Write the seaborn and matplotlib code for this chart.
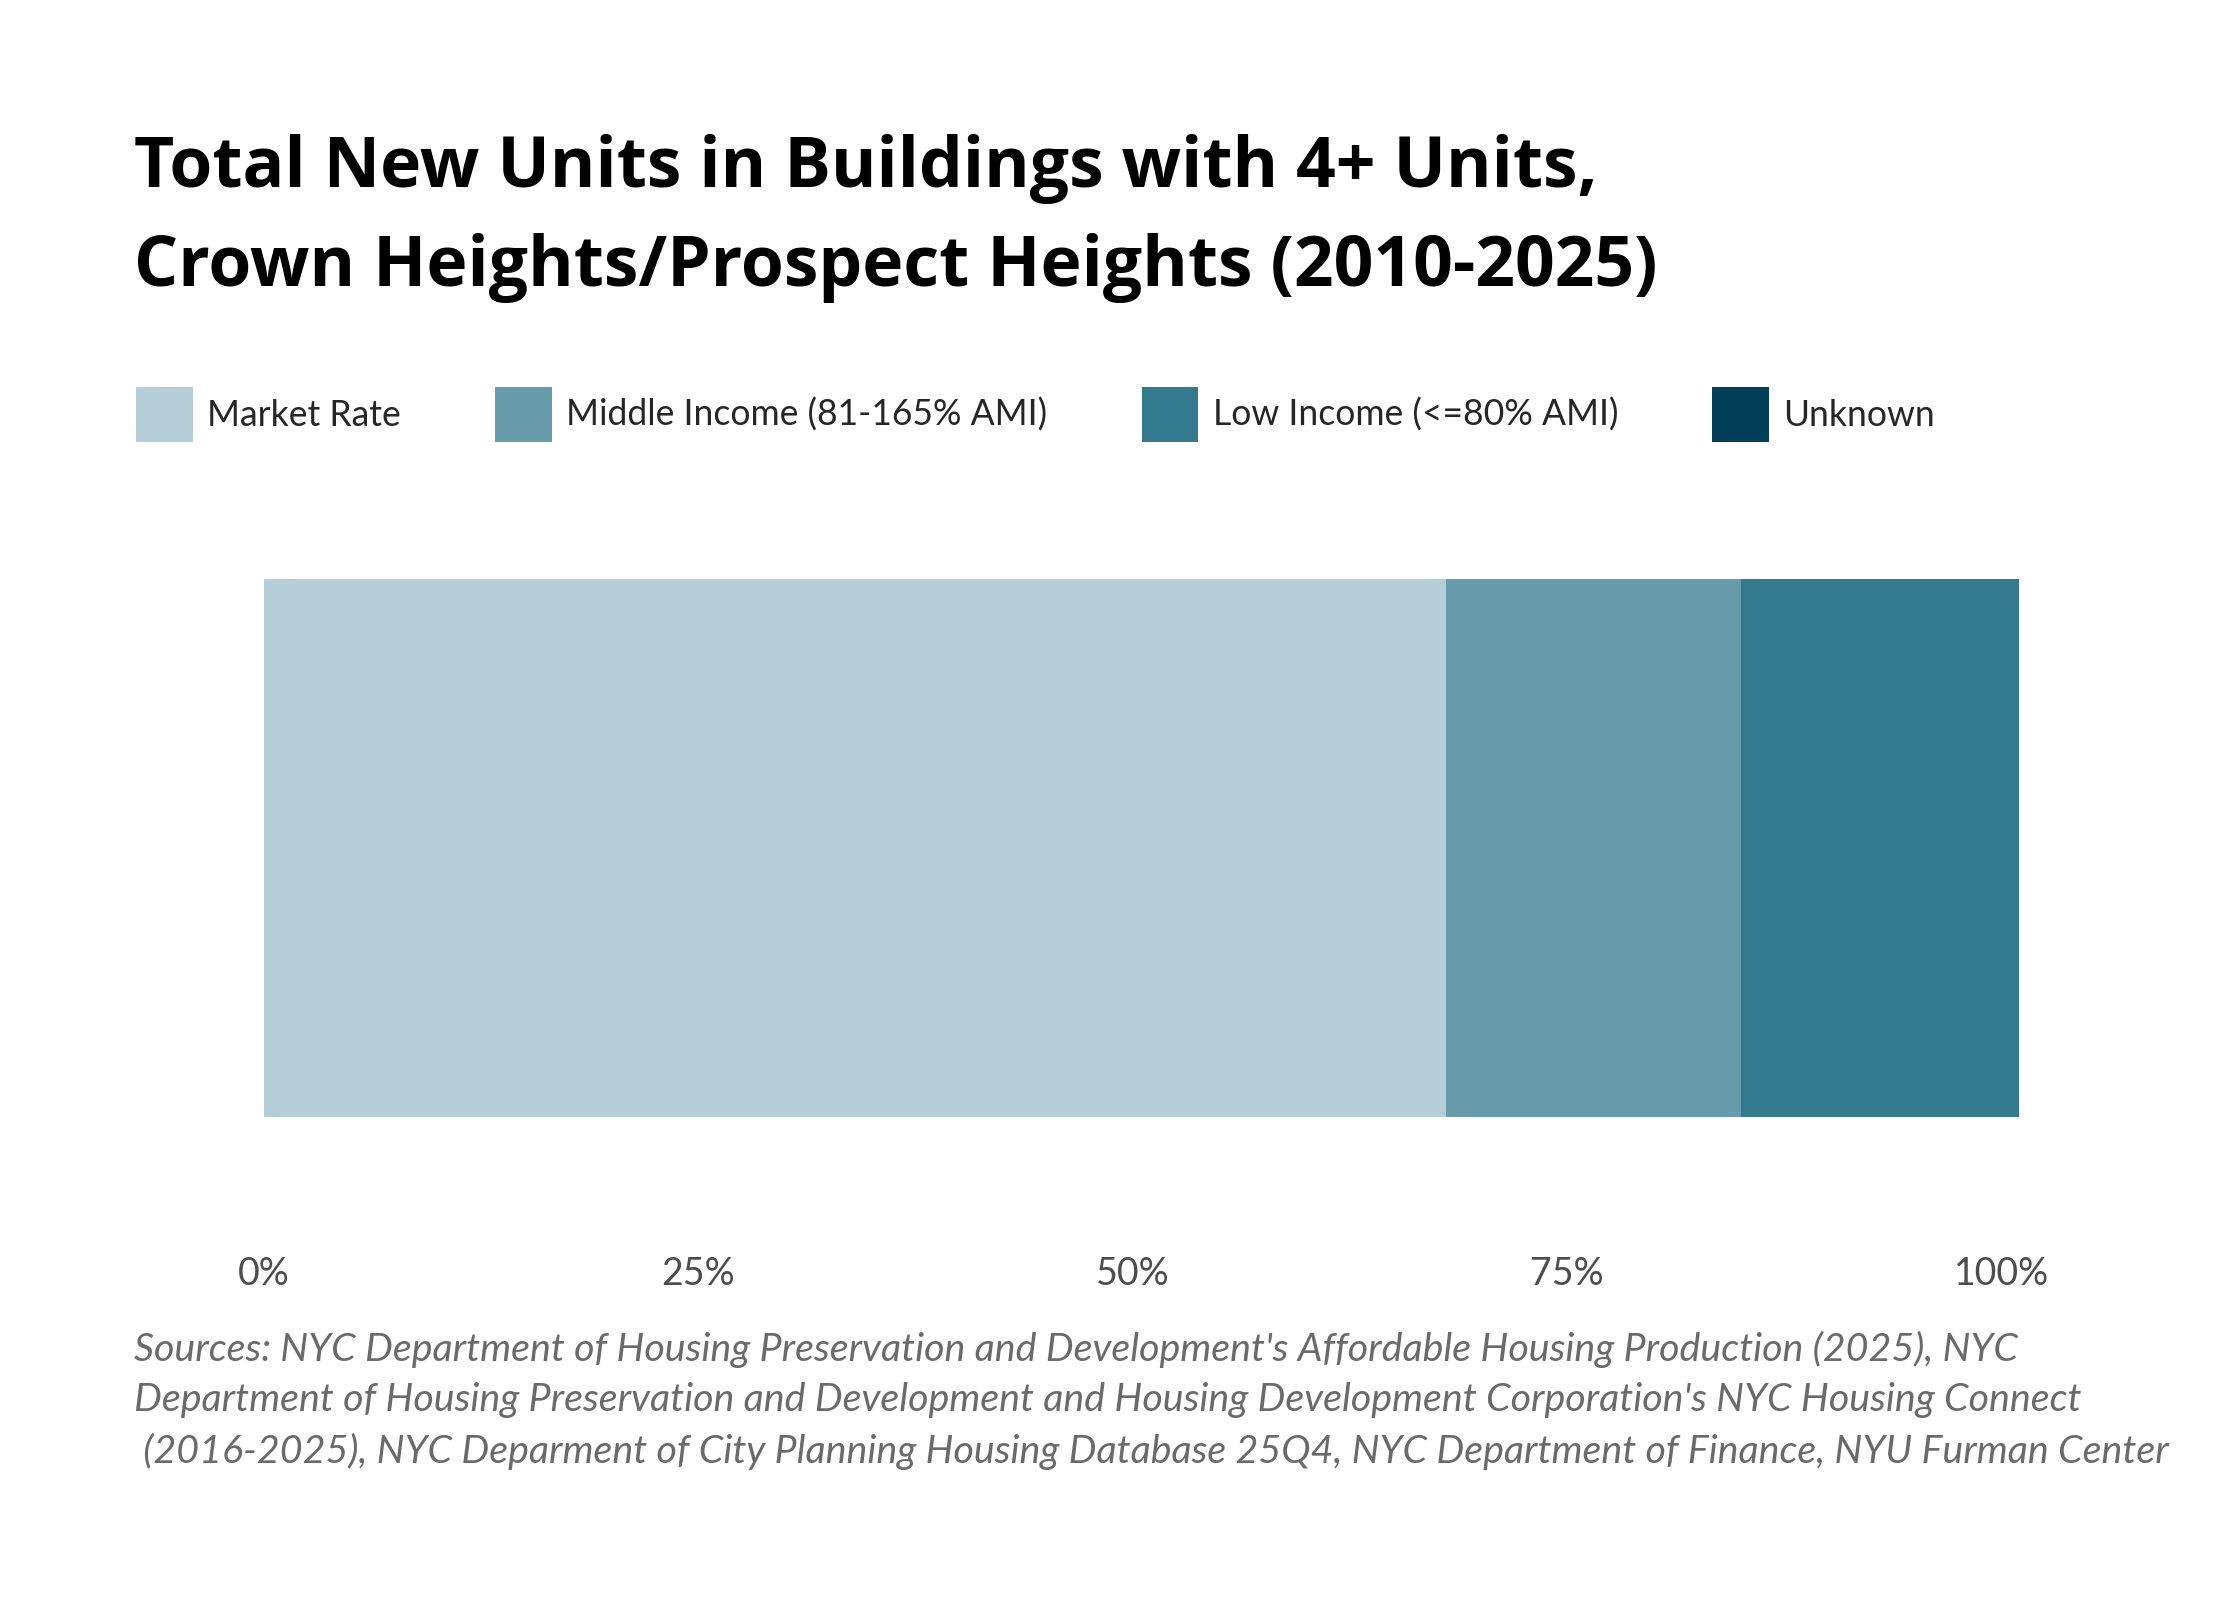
import numpy as np
import pandas as pd
import matplotlib
matplotlib.use("Agg")
import matplotlib.pyplot as plt
from matplotlib.patches import Patch
import seaborn as sns

# données (part des nouveaux logements)
categories = ["Market Rate", "Middle Income (81-165% AMI)", "Low Income (<=80% AMI)", "Unknown"]
shares = [0.68, 0.17, 0.16, 0.0]
colors = ["#b4cdd6", "#679cab", "#337a8f", "#023f5a"]
tick_values = [0, 0.25, 0.5, 0.75, 1.0]
tick_labels = ["0%", "25%", "50%", "75%", "100%"]

title = "Total New Units in Buildings with 4+ Units,\nCrown Heights/Prospect Heights (2010-2025)"
sources = ("Sources: NYC Department of Housing Preservation and Development's Affordable Housing Production (2025), NYC\n"
           "Department of Housing Preservation and Development and Housing Development Corporation's NYC Housing Connect\n"
           " (2016-2025), NYC Deparment of City Planning Housing Database 25Q4, NYC Department of Finance, NYU Furman Center")

df = pd.DataFrame({"category": categories, "share": shares, "color": colors})
df["cumul"] = df["share"].cumsum()
df["group"] = "all"

sns.set_theme(style="white")
plt.rcParams["font.family"] = ["Lato", "DejaVu Sans"]

W, H = 2240, 1600
fig = plt.figure(figsize=(11.2, 8), dpi=200)
ax = fig.add_axes([264 / W, 1 - 1117 / H, (2019 - 264) / W, (1117 - 579) / H])

# barres empilées : on superpose les cumuls du plus grand au plus petit
for _, row in df.iloc[::-1].iterrows():
    sns.barplot(x=[row["cumul"]], y=[row["group"]], orient="h", width=1,
                color=row["color"], saturation=1, ax=ax, linewidth=0)

ax.set_xlim(0, df["cumul"].iloc[-1])
ax.set_ylim(-0.5, 0.5)
ax.set_xticks(tick_values)
ax.set_xticklabels(tick_labels, fontsize=13.5, color="#4d4d4d")
ax.tick_params(axis="x", length=0, pad=50)
ax.set_yticks([])
ax.set_xlabel("")
ax.set_ylabel("")
sns.despine(ax=ax, left=True, bottom=True)

fig.text(134 / W, 1 - 134 / H, title, fontsize=25, fontweight="bold", color="black",
         va="top", ha="left", linespacing=1.55, family=["Open Sans", "DejaVu Sans"])

handles = [Patch(facecolor=c, edgecolor="none") for c in colors]
fig.legend(handles, categories, loc="upper left", bbox_to_anchor=(136 / W, 1 - 387 / H),
           ncol=4, frameon=False, fontsize=12.8, handlelength=1.6, handleheight=2.0,
           handletextpad=0.4, columnspacing=2.65, borderaxespad=0, borderpad=0)

fig.text(134 / W, 1 - 1331 / H, sources, fontsize=14.2, style="italic", color="#6a6a6a",
         va="top", ha="left", linespacing=1.48)

fig.savefig("out.png", dpi=200, facecolor="white")
plt.close()
